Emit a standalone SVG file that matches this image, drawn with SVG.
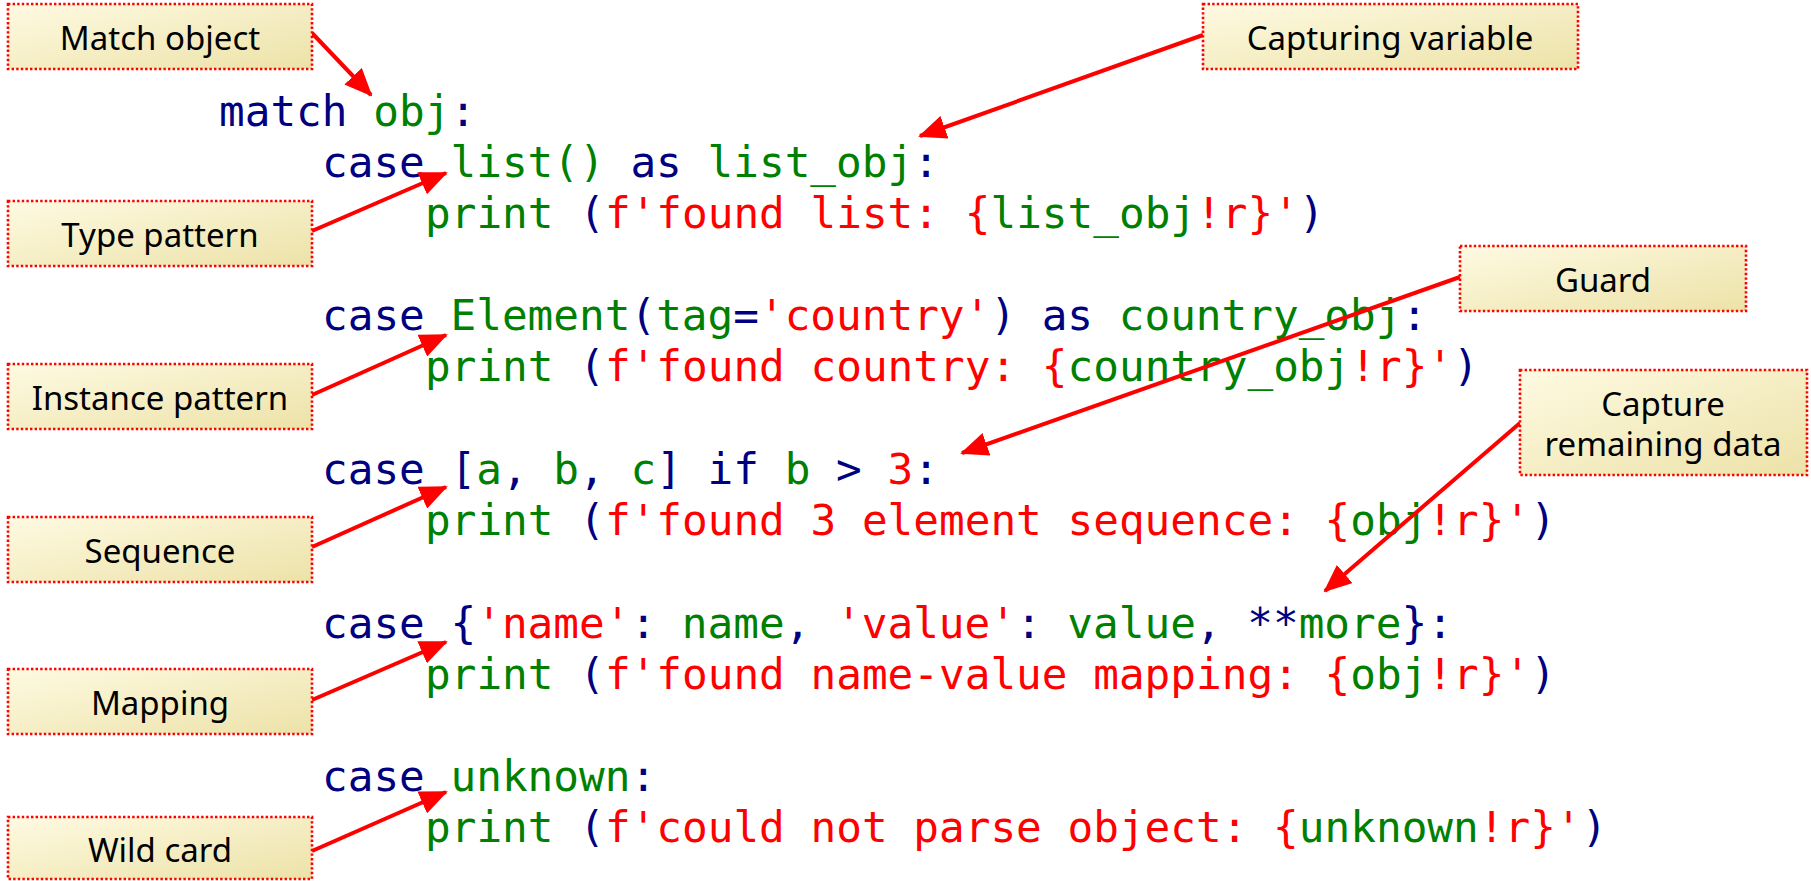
<svg xmlns="http://www.w3.org/2000/svg" width="1811" height="881" viewBox="0 0 1811 881">
<style>
.box{fill:url(#bg);stroke:#ff0000;stroke-width:2.6;stroke-dasharray:2.4 2.2}
.lbl{font-family:"Noto Sans","Open Sans","Liberation Sans",sans-serif;font-size:33px;fill:#000;text-anchor:middle}
.code{font-family:"DejaVu Sans Mono","Liberation Mono",monospace;font-size:42.7px}
.n{fill:#000080}.g{fill:#008000}.r{fill:#ff0000}
.conn line{stroke:#ff0000;stroke-width:4;marker-end:url(#ah)}
</style>
<defs>
<linearGradient id="bg" x1="0" y1="0" x2="1" y2="1">
<stop offset="0" stop-color="#fefae2"/>
<stop offset="1" stop-color="#ece2a8"/>
</linearGradient>
<marker id="ah" markerUnits="userSpaceOnUse" markerWidth="28" markerHeight="24" refX="26" refY="12" orient="auto">
<path d="M0,0 L28,12 L0,24 z" fill="#ff0000"/>
</marker>
</defs>
<rect width="1811" height="881" fill="#ffffff"/>

<g id="code" class="code" xml:space="preserve">
<text x="219" y="126"><tspan class="n">match</tspan> <tspan class="g">obj</tspan><tspan class="n">:</tspan></text>
<text x="322" y="177"><tspan class="n">case</tspan> <tspan class="g">list()</tspan> <tspan class="n">as</tspan> <tspan class="g">list_obj</tspan><tspan class="n">:</tspan></text>
<text x="425" y="228"><tspan class="g">print</tspan><tspan class="n"> (</tspan><tspan class="r">f'found list: {</tspan><tspan class="g">list_obj</tspan><tspan class="r">!r}'</tspan><tspan class="n">)</tspan></text>
<text x="322" y="330"><tspan class="n">case</tspan> <tspan class="g">Element</tspan><tspan class="n">(</tspan><tspan class="g">tag</tspan><tspan class="n">=</tspan><tspan class="r">'country'</tspan><tspan class="n">) as</tspan> <tspan class="g">country_obj</tspan><tspan class="n">:</tspan></text>
<text x="425" y="381"><tspan class="g">print</tspan><tspan class="n"> (</tspan><tspan class="r">f'found country: {</tspan><tspan class="g">country_obj</tspan><tspan class="r">!r}'</tspan><tspan class="n">)</tspan></text>
<text x="322" y="484"><tspan class="n">case [</tspan><tspan class="g">a</tspan><tspan class="n">, </tspan><tspan class="g">b</tspan><tspan class="n">, </tspan><tspan class="g">c</tspan><tspan class="n">] if </tspan><tspan class="g">b</tspan><tspan class="n"> &gt; </tspan><tspan class="r">3</tspan><tspan class="n">:</tspan></text>
<text x="425" y="535"><tspan class="g">print</tspan><tspan class="n"> (</tspan><tspan class="r">f'found 3 element sequence: {</tspan><tspan class="g">obj</tspan><tspan class="r">!r}'</tspan><tspan class="n">)</tspan></text>
<text x="322" y="638"><tspan class="n">case {</tspan><tspan class="r">'name'</tspan><tspan class="n">: </tspan><tspan class="g">name</tspan><tspan class="n">, </tspan><tspan class="r">'value'</tspan><tspan class="n">: </tspan><tspan class="g">value</tspan><tspan class="n">, **</tspan><tspan class="g">more</tspan><tspan class="n">}:</tspan></text>
<text x="425" y="689"><tspan class="g">print</tspan><tspan class="n"> (</tspan><tspan class="r">f'found name-value mapping: {</tspan><tspan class="g">obj</tspan><tspan class="r">!r}'</tspan><tspan class="n">)</tspan></text>
<text x="322" y="791"><tspan class="n">case</tspan> <tspan class="g">unknown</tspan><tspan class="n">:</tspan></text>
<text x="425" y="842"><tspan class="g">print</tspan><tspan class="n"> (</tspan><tspan class="r">f'could not parse object: {</tspan><tspan class="g">unknown</tspan><tspan class="r">!r}'</tspan><tspan class="n">)</tspan></text>
</g>

<g id="connectors" class="conn">
<line x1="312" y1="33" x2="371" y2="95"/>
<line x1="1203" y1="35" x2="920" y2="136"/>
<line x1="312" y1="231" x2="446" y2="173"/>
<line x1="312" y1="395" x2="446" y2="335"/>
<line x1="1460" y1="277" x2="962" y2="453"/>
<line x1="312" y1="547" x2="446" y2="487"/>
<line x1="1520" y1="423" x2="1325" y2="591"/>
<line x1="312" y1="700" x2="446" y2="642"/>
<line x1="312" y1="851" x2="446" y2="792"/>
</g>

<g id="n-match-object"><rect class="box" x="8" y="4" width="304" height="65"/><text class="lbl" x="160" y="50">Match object</text></g>
<g id="n-capturing-variable"><rect class="box" x="1203" y="4" width="375" height="65"/><text class="lbl" x="1390" y="50">Capturing variable</text></g>
<g id="n-type-pattern"><rect class="box" x="8" y="201" width="304" height="65"/><text class="lbl" x="160" y="247">Type pattern</text></g>
<g id="n-guard"><rect class="box" x="1460" y="246" width="286" height="65"/><text class="lbl" x="1603" y="292">Guard</text></g>
<g id="n-instance-pattern"><rect class="box" x="8" y="364" width="304" height="65"/><text class="lbl" x="160" y="410">Instance pattern</text></g>
<g id="n-capture-remaining"><rect class="box" x="1520" y="370" width="287" height="105"/><text class="lbl" x="1663" y="416">Capture</text><text class="lbl" x="1663" y="456">remaining data</text></g>
<g id="n-sequence"><rect class="box" x="8" y="517" width="304" height="65"/><text class="lbl" x="160" y="563">Sequence</text></g>
<g id="n-mapping"><rect class="box" x="8" y="669" width="304" height="65"/><text class="lbl" x="160" y="715">Mapping</text></g>
<g id="n-wild-card"><rect class="box" x="8" y="817" width="304" height="62"/><text class="lbl" x="160" y="862">Wild card</text></g>
</svg>
